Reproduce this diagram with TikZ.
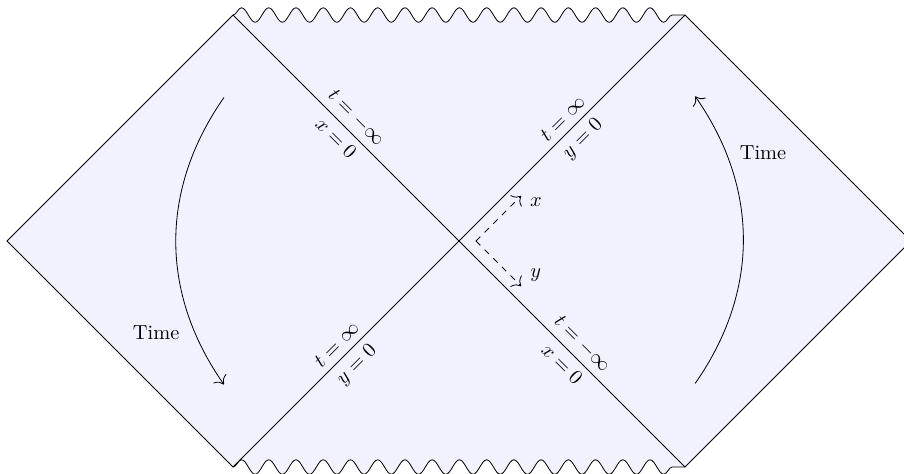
\documentclass[tikz,border=0pt]{standalone}
\usepackage{amsmath,amssymb}
\usetikzlibrary{decorations.pathmorphing,arrows.meta}

\tikzset{
  wavy/.style={decoration={snake,segment length=0.47cm,amplitude=0.125cm}},
  region/.style={fill=blue!5},
}

\begin{document}
\begin{tikzpicture}[x=1.95cm,y=1.95cm,>={To[scale=1.5]}]
\useasboundingbox (-4.062,-2.053) rectangle (3.938,2.133);
\coordinate (W) at (-4,0);
\coordinate (E) at (4,0);
\coordinate (NW) at (-2,2);
\coordinate (NE) at (2,2);
\coordinate (SW) at (-2,-2);
\coordinate (SE) at (2,-2);
\coordinate (O) at (0,0);
\begin{scope}
\clip (SW) decorate[wavy]{-- (SE)} -- (E) -- (4,2.5) -- (-4,2.5) -- (W) -- cycle;
\fill[region] (W) -- (NW) decorate[wavy]{-- (NE)} -- (E) -- (2,-2.5) -- (-2,-2.5) -- cycle;
\end{scope}
\draw (SW) -- (W) -- (NW);
\draw (NE) -- (E) -- (SE);
\draw[wavy,decorate] (NW) -- (NE);
\draw[wavy,decorate] (SW) -- (SE);
\draw (NW) -- (SE);
\draw (SW) -- (NE);
\path (NW) -- (O) node[midway,sloped,above] (ult) {$t=-\infty$} node[midway,sloped,below] (ulx) {$x=0$};
\path (O) -- (NE) node[midway,sloped,above] (urt) {$t=\infty$} node[midway,sloped,below] (ury) {$y=0$};
\path (SW) -- (O) node[midway,sloped,above] (llt) {$t=\infty$} node[midway,sloped,below] (lly) {$y=0$};
\path (O) -- (SE) node[midway,sloped,above] (lrt) {$t=-\infty$} node[midway,sloped,below] (lrx) {$x=0$};
\coordinate (c) at (0.15,0);
\coordinate (xe) at (0.55,0.4);
\coordinate (ye) at (0.55,-0.4);
\draw[dashed,->] (c) -- (xe);
\draw[dashed,->] (c) -- (ye);
\node (xl) at (0.68,0.34) {$x$};
\node (yl) at (0.68,-0.30) {$y$};
\coordinate (ta) at (-2.08,1.27);
\coordinate (tb) at (-2.08,-1.27);
\coordinate (tc) at (2.09,-1.26);
\coordinate (td) at (2.09,1.28);
\draw[->] (ta) to[bend right=35] (tb);
\draw[->] (tc) to[bend right=35] (td);
\node (tl) at (-2.68,-0.81) {Time};
\node (tr) at (2.69,0.78) {Time};
\end{tikzpicture}
\end{document}
